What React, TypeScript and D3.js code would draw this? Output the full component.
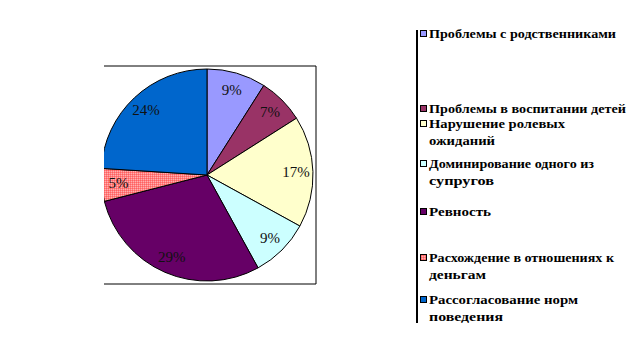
import React from "react";
import * as d3 from "d3";

const categories: string[][] = [
  ["Проблемы с родственниками"],
  ["Проблемы в воспитании детей"],
  ["Нарушение ролевых", "ожиданий"],
  ["Доминирование одного из", "супругов"],
  ["Ревность"],
  ["Расхождение в отношениях к", "деньгам"],
  ["Рассогласование норм", "поведения"],
];
const values: number[] = [9, 7, 17, 9, 29, 5, 24];
const colors: string[] = ["#9999FF", "#993366", "#FFFFCC", "#CCFFFF", "#660066", "url(#chk)", "#0066CC"];

// layout
const W = 630, H = 351;
const cx = 207, cy = 175, R = 106, labelR = 89;
const frame = { x0: 104, y0: 66, x1: 316, y1: 284 };
const legendX = 417;
const legendY = [34, 109, 124, 164, 212, 258, 300];
const lineGap = 17;
const lineWidths: number[][] = [[187], [197], [136, 66], [165, 65], [62], [185, 57], [149, 74]];
const serif = "Liberation Serif, DejaVu Serif, serif";

export default function App() {
  const pie = d3.pie<number>().sort(null).value((d) => d)(values);
  const arc = d3.arc<d3.PieArcDatum<number>>().innerRadius(0).outerRadius(R);
  const total = d3.sum(values);
  return (
    <svg width={W} height={H} style={{ position: "absolute", left: 0, top: 0, background: "#fff" }}>
      <defs>
        <pattern id="chk" width={2} height={2} patternUnits="userSpaceOnUse">
          <rect width={2} height={2} fill="#FF8080" />
          <rect width={1} height={1} fill="#FFB0B0" />
          <rect x={1} y={1} width={1} height={1} fill="#FF6060" />
        </pattern>
        <clipPath id="plot">
          <rect x={frame.x0} y={0} width={W} height={H} />
        </clipPath>
      </defs>
      <g clipPath="url(#plot)">
        <g transform={`translate(${cx},${cy})`}>
          {pie.map((d, i) => (
            <path key={i} d={arc(d) || ""} fill={colors[i]} stroke="#000" strokeWidth={1} />
          ))}
          {pie.map((d, i) => {
            const a = (d.startAngle + d.endAngle) / 2;
            const x = Math.sin(a) * labelR;
            const y = -Math.cos(a) * labelR;
            return (
              <text key={i} x={x} y={y} textAnchor="middle" dominantBaseline="central"
                style={{ fontFamily: serif }} fontSize={15} fill="#111">
                {Math.round((values[i] / total) * 100)}%
              </text>
            );
          })}
        </g>
      </g>
      <path d={`M${frame.x0},${frame.y0}H${frame.x1}V${frame.y1}H${frame.x0}`} fill="none" stroke="#000" strokeWidth={1} />
      <line x1={legendX} y1={30} x2={legendX} y2={323} stroke="#000" strokeWidth={2} />
      {categories.map((lines, i) => (
        <g key={i}>
          <rect x={420.5} y={legendY[i] - 3.5} width={6} height={6} fill={colors[i]} stroke="#000" strokeWidth={1} />
          {lines.map((t, j) => (
            <text key={j} x={429} y={legendY[i] + j * lineGap} dominantBaseline="central"
              style={{ fontFamily: serif }} fontWeight="bold" fontSize={12}
              textLength={lineWidths[i][j]} lengthAdjust="spacingAndGlyphs" fill="#000">
              {t}
            </text>
          ))}
        </g>
      ))}
    </svg>
  );
}
